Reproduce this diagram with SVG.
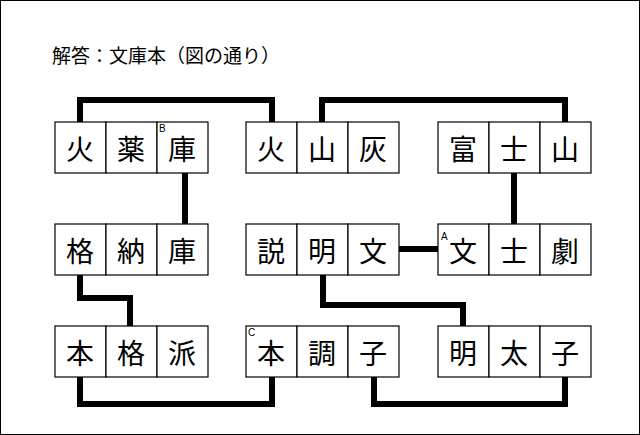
<svg xmlns="http://www.w3.org/2000/svg" width="640" height="435" viewBox="0 0 640 435">
<style>
.c{fill:#fff;stroke:#000;stroke-width:1.2}
.t{font-family:"Noto Sans CJK JP","Noto Sans CJK SC",sans-serif;font-size:28px;text-anchor:middle;dominant-baseline:central}
.s{font-family:"Liberation Sans",sans-serif;font-size:10px}
.w{fill:none;stroke:#000;stroke-width:6}
</style>
<rect x="0.5" y="0.5" width="639" height="434" fill="#fff" stroke="#000"/>
<text x="52" y="63" font-family="Noto Sans CJK JP,Noto Sans CJK SC,sans-serif" font-size="19">解答：文庫本（図の通り）</text>
<g id="connectors" class="w">
<path d="M80,122V100H272V122"/>
<path d="M322,122V100H565V122"/>
<path d="M185,173V224"/>
<path d="M514,173V224"/>
<path d="M399,249H438"/>
<path d="M323,275V305H463V326"/>
<path d="M80,275V298H130V326"/>
<path d="M80,377V404H272V377"/>
<path d="M374,377V404H565V377"/>
</g>
<g id="n1"><rect class="c" x="55" y="122" width="51" height="51"/><rect class="c" x="106" y="122" width="51" height="51"/><rect class="c" x="157" y="122" width="51" height="51"/><text class="t" x="80" y="148">火</text><text class="t" x="131" y="148">薬</text><text class="t" x="182" y="148">庫</text><text class="s" x="159" y="132">B</text></g>
<g id="n2"><rect class="c" x="246" y="122" width="51" height="51"/><rect class="c" x="297" y="122" width="51" height="51"/><rect class="c" x="348" y="122" width="51" height="51"/><text class="t" x="271" y="148">火</text><text class="t" x="322" y="148">山</text><text class="t" x="373" y="148">灰</text></g>
<g id="n3"><rect class="c" x="438" y="122" width="51" height="51"/><rect class="c" x="489" y="122" width="51" height="51"/><rect class="c" x="540" y="122" width="51" height="51"/><text class="t" x="463" y="148">富</text><text class="t" x="514" y="148">士</text><text class="t" x="565" y="148">山</text></g>
<g id="n4"><rect class="c" x="55" y="224" width="51" height="51"/><rect class="c" x="106" y="224" width="51" height="51"/><rect class="c" x="157" y="224" width="51" height="51"/><text class="t" x="80" y="250">格</text><text class="t" x="131" y="250">納</text><text class="t" x="182" y="250">庫</text></g>
<g id="n5"><rect class="c" x="246" y="224" width="51" height="51"/><rect class="c" x="297" y="224" width="51" height="51"/><rect class="c" x="348" y="224" width="51" height="51"/><text class="t" x="271" y="250">説</text><text class="t" x="322" y="250">明</text><text class="t" x="373" y="250">文</text></g>
<g id="n6"><rect class="c" x="438" y="224" width="51" height="51"/><rect class="c" x="489" y="224" width="51" height="51"/><rect class="c" x="540" y="224" width="51" height="51"/><text class="t" x="463" y="250">文</text><text class="t" x="514" y="250">士</text><text class="t" x="565" y="250">劇</text><text class="s" x="441" y="240">A</text></g>
<g id="n7"><rect class="c" x="55" y="326" width="51" height="51"/><rect class="c" x="106" y="326" width="51" height="51"/><rect class="c" x="157" y="326" width="51" height="51"/><text class="t" x="80" y="352">本</text><text class="t" x="131" y="352">格</text><text class="t" x="182" y="352">派</text></g>
<g id="n8"><rect class="c" x="246" y="326" width="51" height="51"/><rect class="c" x="297" y="326" width="51" height="51"/><rect class="c" x="348" y="326" width="51" height="51"/><text class="t" x="271" y="352">本</text><text class="t" x="322" y="352">調</text><text class="t" x="373" y="352">子</text><text class="s" x="248" y="336">C</text></g>
<g id="n9"><rect class="c" x="438" y="326" width="51" height="51"/><rect class="c" x="489" y="326" width="51" height="51"/><rect class="c" x="540" y="326" width="51" height="51"/><text class="t" x="463" y="352">明</text><text class="t" x="514" y="352">太</text><text class="t" x="565" y="352">子</text></g>
</svg>
